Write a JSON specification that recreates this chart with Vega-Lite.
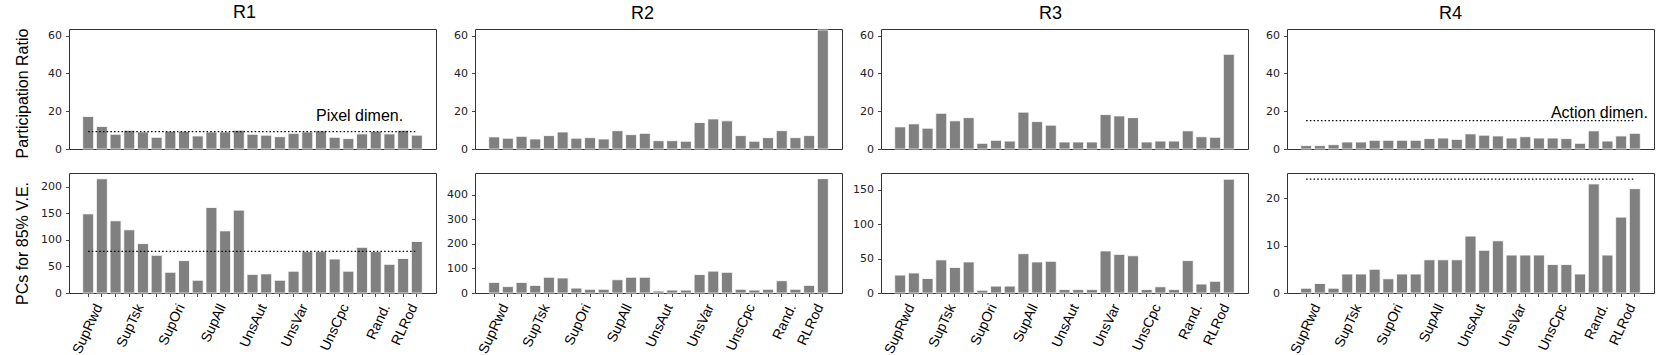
{
  "$schema": "https://vega.github.io/schema/vega-lite/v6.json",
  "padding": {"left": 13, "top": 3, "right": 5, "bottom": 0},
  "background": "white",
  "bounds": "flush",
  "columns": 4,
  "spacing": {"row": 24, "column": 39},
  "config": {
    "view": {"stroke": "#333333", "strokeWidth": 1},
    "axis": {"domain": false, "grid": false, "tickColor": "#333333", "tickSize": 3.5, "tickWidth": 0.9,
             "labelFont": "DejaVu Sans", "labelFontSize": 11, "labelColor": "#222222",
             "titleFont": "Liberation Sans", "titleFontSize": 16, "titleFontWeight": "normal", "titleColor": "#000000"},
    "axisY": {"labelPadding": 4, "titleX": -42, "titleBaseline": "alphabetic", "labelOverlap": false},
    "axisX": {"labelFont": "Liberation Sans", "labelFontSize": 14, "labelAngle": -65, "labelAlign": "right",
              "labelBaseline": "middle", "labelOffset": 11, "labelPadding": 8, "labelOverlap": false, "labelColor": "#000000"},
    "title": {"font": "Liberation Sans", "fontSize": 18, "fontWeight": "normal", "baseline": "alphabetic", "offset": 6, "color": "#000000"}
  },
  "datasets": {
    "R1pr": [{"i":0,"v":17.2},{"i":1,"v":11.9},{"i":2,"v":7.8},{"i":3,"v":9.9},{"i":4,"v":9.0},{"i":5,"v":6.2},{"i":6,"v":9.4},{"i":7,"v":9.4},{"i":8,"v":6.9},{"i":9,"v":9.0},{"i":10,"v":9.0},{"i":11,"v":9.9},{"i":12,"v":7.8},{"i":13,"v":7.3},{"i":14,"v":6.5},{"i":15,"v":8.3},{"i":16,"v":9.0},{"i":17,"v":9.6},{"i":18,"v":6.2},{"i":19,"v":5.5},{"i":20,"v":8.0},{"i":21,"v":9.4},{"i":22,"v":8.0},{"i":23,"v":9.9},{"i":24,"v":7.3}],
    "R1pc": [{"i":0,"v":149},{"i":1,"v":215},{"i":2,"v":136},{"i":3,"v":119},{"i":4,"v":93},{"i":5,"v":71},{"i":6,"v":39},{"i":7,"v":61},{"i":8,"v":24},{"i":9,"v":161},{"i":10,"v":117},{"i":11,"v":156},{"i":12,"v":35},{"i":13,"v":36},{"i":14,"v":24},{"i":15,"v":41},{"i":16,"v":78},{"i":17,"v":78},{"i":18,"v":64},{"i":19,"v":41},{"i":20,"v":86},{"i":21,"v":78},{"i":22,"v":54},{"i":23,"v":65},{"i":24,"v":97}],
    "R2pr": [{"i":0,"v":6.4},{"i":1,"v":5.7},{"i":2,"v":6.7},{"i":3,"v":5.3},{"i":4,"v":7.1},{"i":5,"v":9.0},{"i":6,"v":5.7},{"i":7,"v":6.0},{"i":8,"v":5.3},{"i":9,"v":9.7},{"i":10,"v":7.6},{"i":11,"v":8.3},{"i":12,"v":4.4},{"i":13,"v":4.4},{"i":14,"v":4.1},{"i":15,"v":14.0},{"i":16,"v":15.9},{"i":17,"v":14.9},{"i":18,"v":7.1},{"i":19,"v":4.1},{"i":20,"v":6.0},{"i":21,"v":9.7},{"i":22,"v":6.0},{"i":23,"v":7.1},{"i":24,"v":63.0}],
    "R2pc": [{"i":0,"v":43},{"i":1,"v":26},{"i":2,"v":43},{"i":3,"v":31},{"i":4,"v":64},{"i":5,"v":61},{"i":6,"v":20},{"i":7,"v":15},{"i":8,"v":15},{"i":9,"v":54},{"i":10,"v":64},{"i":11,"v":64},{"i":12,"v":8},{"i":13,"v":12},{"i":14,"v":12},{"i":15,"v":75},{"i":16,"v":89},{"i":17,"v":84},{"i":18,"v":15},{"i":19,"v":12},{"i":20,"v":15},{"i":21,"v":50},{"i":22,"v":15},{"i":23,"v":31},{"i":24,"v":465}],
    "R3pr": [{"i":0,"v":11.7},{"i":1,"v":13.3},{"i":2,"v":11.0},{"i":3,"v":18.9},{"i":4,"v":14.9},{"i":5,"v":16.6},{"i":6,"v":3.0},{"i":7,"v":4.6},{"i":8,"v":4.2},{"i":9,"v":19.5},{"i":10,"v":14.5},{"i":11,"v":12.6},{"i":12,"v":3.7},{"i":13,"v":3.7},{"i":14,"v":3.7},{"i":15,"v":18.2},{"i":16,"v":17.5},{"i":17,"v":16.6},{"i":18,"v":3.7},{"i":19,"v":4.2},{"i":20,"v":4.2},{"i":21,"v":9.6},{"i":22,"v":6.5},{"i":23,"v":6.2},{"i":24,"v":50.1}],
    "R3pc": [{"i":0,"v":26},{"i":1,"v":29},{"i":2,"v":21},{"i":3,"v":48},{"i":4,"v":37},{"i":5,"v":45},{"i":6,"v":4},{"i":7,"v":10},{"i":8,"v":10},{"i":9,"v":57},{"i":10,"v":45},{"i":11,"v":46},{"i":12,"v":5},{"i":13,"v":5},{"i":14,"v":5},{"i":15,"v":61},{"i":16,"v":56},{"i":17,"v":54},{"i":18,"v":5},{"i":19,"v":9},{"i":20,"v":5},{"i":21,"v":47},{"i":22,"v":13},{"i":23,"v":17},{"i":24,"v":165}],
    "R4pr": [{"i":0,"v":1.8},{"i":1,"v":1.8},{"i":2,"v":2.3},{"i":3,"v":3.7},{"i":4,"v":3.7},{"i":5,"v":4.6},{"i":6,"v":4.6},{"i":7,"v":4.6},{"i":8,"v":4.6},{"i":9,"v":5.5},{"i":10,"v":5.8},{"i":11,"v":5.1},{"i":12,"v":8.0},{"i":13,"v":7.3},{"i":14,"v":6.9},{"i":15,"v":5.8},{"i":16,"v":6.5},{"i":17,"v":5.8},{"i":18,"v":5.8},{"i":19,"v":5.5},{"i":20,"v":3.0},{"i":21,"v":9.6},{"i":22,"v":4.2},{"i":23,"v":6.9},{"i":24,"v":8.3}],
    "R4pc": [{"i":0,"v":1},{"i":1,"v":2},{"i":2,"v":1},{"i":3,"v":4},{"i":4,"v":4},{"i":5,"v":5},{"i":6,"v":3},{"i":7,"v":4},{"i":8,"v":4},{"i":9,"v":7},{"i":10,"v":7},{"i":11,"v":7},{"i":12,"v":12},{"i":13,"v":9},{"i":14,"v":11},{"i":15,"v":8},{"i":16,"v":8},{"i":17,"v":8},{"i":18,"v":6},{"i":19,"v":6},{"i":20,"v":4},{"i":21,"v":23},{"i":22,"v":8},{"i":23,"v":16},{"i":24,"v":22}]
  },
  "concat": [
    {
      "width": 367, "height": 120,
      "title": {"text": "R1", "dx": -8},
      "encoding": {
        "x": {"field": "i", "type": "ordinal", "scale": {"paddingInner": 0.2, "paddingOuter": 1.24}, "axis": null},
        "y": {"field": "v", "type": "quantitative", "scale": {"domain": [0, 63.5], "nice": false}, "axis": {"values": [0, 20, 40, 60], "title": "Participation Ratio", "titleY": 64}}
      },
      "layer": [
        {"data": {"name": "R1pr"}, "mark": {"type": "bar", "color": "#808080", "stroke": "#ffffff", "strokeWidth": 0.8}},
        {"data": {"values": [{"i": 0, "j": 24, "v": 9.2}]}, "mark": {"type": "rule", "color": "#000000", "strokeDash": [1.5, 2.2], "strokeWidth": 1.3},
         "encoding": {"x2": {"field": "j"}}},
        {"data": {"values": [{"i": 23, "v": 15, "t": "Pixel dimen."}]}, "mark": {"type": "text", "align": "right", "baseline": "alphabetic", "font": "Liberation Sans", "fontSize": 16, "color": "#000000"},
         "encoding": {"text": {"field": "t"}}}
      ]
    },
    {
      "width": 367, "height": 120,
      "title": {"text": "R2", "dx": -16},
      "encoding": {
        "x": {"field": "i", "type": "ordinal", "scale": {"paddingInner": 0.2, "paddingOuter": 1.24}, "axis": null},
        "y": {"field": "v", "type": "quantitative", "scale": {"domain": [0, 63.5], "nice": false}, "axis": {"values": [0, 20, 40, 60], "title": null}}
      },
      "layer": [
        {"data": {"name": "R2pr"}, "mark": {"type": "bar", "color": "#808080", "stroke": "#ffffff", "strokeWidth": 0.8}}
      ]
    },
    {
      "width": 367, "height": 120,
      "title": {"text": "R3", "dx": -14},
      "encoding": {
        "x": {"field": "i", "type": "ordinal", "scale": {"paddingInner": 0.2, "paddingOuter": 1.24}, "axis": null},
        "y": {"field": "v", "type": "quantitative", "scale": {"domain": [0, 63.5], "nice": false}, "axis": {"values": [0, 20, 40, 60], "title": null}}
      },
      "layer": [
        {"data": {"name": "R3pr"}, "mark": {"type": "bar", "color": "#808080", "stroke": "#ffffff", "strokeWidth": 0.8}}
      ]
    },
    {
      "width": 367, "height": 120,
      "title": {"text": "R4", "dx": -20},
      "encoding": {
        "x": {"field": "i", "type": "ordinal", "scale": {"paddingInner": 0.2, "paddingOuter": 1.24}, "axis": null},
        "y": {"field": "v", "type": "quantitative", "scale": {"domain": [0, 63.5], "nice": false}, "axis": {"values": [0, 20, 40, 60], "title": null}}
      },
      "layer": [
        {"data": {"name": "R4pr"}, "mark": {"type": "bar", "color": "#808080", "stroke": "#ffffff", "strokeWidth": 0.8}},
        {"data": {"values": [{"i": 0, "j": 24, "v": 15}]}, "mark": {"type": "rule", "color": "#000000", "strokeDash": [1.5, 2.2], "strokeWidth": 1.3},
         "encoding": {"x2": {"field": "j"}}},
        {"data": {"values": [{"i": 24, "v": 16.5, "t": "Action dimen."}]}, "mark": {"type": "text", "align": "right", "baseline": "alphabetic", "font": "Liberation Sans", "fontSize": 16, "color": "#000000", "dx": 13},
         "encoding": {"text": {"field": "t"}}}
      ]
    },
    {
      "width": 367, "height": 120,
      "encoding": {
        "x": {"field": "i", "type": "ordinal", "scale": {"paddingInner": 0.2, "paddingOuter": 1.24},
              "axis": {"title": null, "labelExpr": "datum.value==0?'SupRwd':datum.value==3?'SupTsk':datum.value==6?'SupOri':datum.value==9?'SupAll':datum.value==12?'UnsAut':datum.value==15?'UnsVar':datum.value==18?'UnsCpc':datum.value==21?'Rand.':datum.value==23?'RLRod':''"}},
        "y": {"field": "v", "type": "quantitative", "scale": {"domain": [0, 226], "nice": false}, "axis": {"values": [0, 50, 100, 150, 200], "title": "PCs for 85% V.E.", "titleY": 70}}
      },
      "layer": [
        {"data": {"name": "R1pc"}, "mark": {"type": "bar", "color": "#808080", "stroke": "#ffffff", "strokeWidth": 0.8}},
        {"data": {"values": [{"i": 0, "j": 24, "v": 78.5}]}, "mark": {"type": "rule", "color": "#000000", "strokeDash": [1.5, 2.2], "strokeWidth": 1.3},
         "encoding": {"x2": {"field": "j"}}}
      ]
    },
    {
      "width": 367, "height": 120,
      "encoding": {
        "x": {"field": "i", "type": "ordinal", "scale": {"paddingInner": 0.2, "paddingOuter": 1.24},
              "axis": {"title": null, "labelExpr": "datum.value==0?'SupRwd':datum.value==3?'SupTsk':datum.value==6?'SupOri':datum.value==9?'SupAll':datum.value==12?'UnsAut':datum.value==15?'UnsVar':datum.value==18?'UnsCpc':datum.value==21?'Rand.':datum.value==23?'RLRod':''"}},
        "y": {"field": "v", "type": "quantitative", "scale": {"domain": [0, 488], "nice": false}, "axis": {"values": [0, 100, 200, 300, 400], "title": null}}
      },
      "layer": [
        {"data": {"name": "R2pc"}, "mark": {"type": "bar", "color": "#808080", "stroke": "#ffffff", "strokeWidth": 0.8}}
      ]
    },
    {
      "width": 367, "height": 120,
      "encoding": {
        "x": {"field": "i", "type": "ordinal", "scale": {"paddingInner": 0.2, "paddingOuter": 1.24},
              "axis": {"title": null, "labelExpr": "datum.value==0?'SupRwd':datum.value==3?'SupTsk':datum.value==6?'SupOri':datum.value==9?'SupAll':datum.value==12?'UnsAut':datum.value==15?'UnsVar':datum.value==18?'UnsCpc':datum.value==21?'Rand.':datum.value==23?'RLRod':''"}},
        "y": {"field": "v", "type": "quantitative", "scale": {"domain": [0, 174], "nice": false}, "axis": {"values": [0, 50, 100, 150], "title": null}}
      },
      "layer": [
        {"data": {"name": "R3pc"}, "mark": {"type": "bar", "color": "#808080", "stroke": "#ffffff", "strokeWidth": 0.8}}
      ]
    },
    {
      "width": 367, "height": 120,
      "encoding": {
        "x": {"field": "i", "type": "ordinal", "scale": {"paddingInner": 0.2, "paddingOuter": 1.24},
              "axis": {"title": null, "labelExpr": "datum.value==0?'SupRwd':datum.value==3?'SupTsk':datum.value==6?'SupOri':datum.value==9?'SupAll':datum.value==12?'UnsAut':datum.value==15?'UnsVar':datum.value==18?'UnsCpc':datum.value==21?'Rand.':datum.value==23?'RLRod':''"}},
        "y": {"field": "v", "type": "quantitative", "scale": {"domain": [0, 25.3], "nice": false}, "axis": {"values": [0, 10, 20], "title": null}}
      },
      "layer": [
        {"data": {"name": "R4pc"}, "mark": {"type": "bar", "color": "#808080", "stroke": "#ffffff", "strokeWidth": 0.8}},
        {"data": {"values": [{"i": 0, "j": 24, "v": 24}]}, "mark": {"type": "rule", "color": "#000000", "strokeDash": [1.5, 2.2], "strokeWidth": 1.3},
         "encoding": {"x2": {"field": "j"}}}
      ]
    }
  ]
}
